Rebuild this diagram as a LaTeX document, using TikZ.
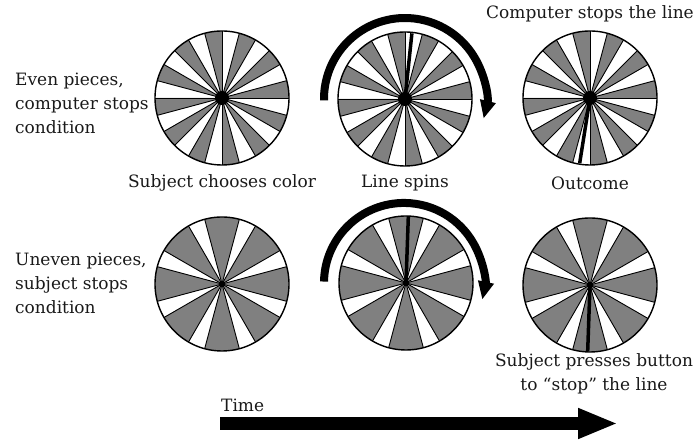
\documentclass[tikz,border=0pt]{standalone}
\usepackage{fontspec}
\setmainfont{DejaVu Serif}
\usetikzlibrary{arrows.meta}
\definecolor{wedge}{gray}{0.5}
\definecolor{ink}{gray}{0.1}
\tikzset{
  lbl/.style={font=\fontsize{17}{24}\selectfont, text=ink, inner sep=0pt},
  rim/.style={draw=black, line width=1.4pt},
  spoke/.style={draw=black, line width=0.9pt},
  pointer/.style={draw=black, line width=3.5pt},
  spin/.style={draw=black, line width=8pt, -{Triangle[length=18pt,width=15pt]}},
  timearrow/.style={draw=black, line width=13pt, -{Triangle[length=40pt,width=28pt]}},
}
\begin{document}
\begin{tikzpicture}[x=1pt,y=1pt]
\useasboundingbox (0,0) rectangle (696,443);
\coordinate (w1) at (222,345);
\coordinate (w2) at (405,344);
\coordinate (w3) at (590,345);
\coordinate (w4) at (222,159);
\coordinate (w5) at (406,160);
\coordinate (w6) at (590,158);

% even-piece wheels
\foreach \w in {w1,w2,w3}{
  \fill[white] (\w) circle[radius=67pt];
  \foreach \a in {0,30,...,330}{
    \fill[wedge] (\w) -- ++(\a:67pt) arc[start angle=\a, end angle=\a+15, radius=67pt] -- cycle;
  }
  \foreach \a in {0,15,...,345}{\draw[spoke] (\w) -- ++(\a:67pt);}
  \draw[rim] (\w) circle[radius=67pt];
  \fill[black] (\w) circle[radius=7pt];
}

% uneven-piece wheels
\foreach \w in {w4,w5,w6}{
  \fill[white] (\w) circle[radius=67pt];
  \foreach \a in {0,45,...,315}{
    \fill[wedge] (\w) -- ++(\a-15:67pt) arc[start angle=\a-15, end angle=\a+15, radius=67pt] -- cycle;
    \draw[spoke] (\w) -- ++(\a-15:67pt);
    \draw[spoke] (\w) -- ++(\a+15:67pt);
  }
  \draw[rim] (\w) circle[radius=67pt];
  \fill[black] (\w) circle[radius=3pt];
}

% pointer lines
\coordinate (p2) at ([shift={(84:66pt)}]w2);
\coordinate (p3) at ([shift={(261:66pt)}]w3);
\coordinate (p5) at ([shift={(88:67pt)}]w5);
\coordinate (p6) at ([shift={(268:66pt)}]w6);
\draw[pointer] (w2) -- (p2);
\draw[pointer] (w3) -- (p3);
\draw[pointer] (w5) -- (p5);
\draw[pointer] (w6) -- (p6);

% spin arrows
\draw[spin] ([shift={(181:81pt)}]w2) arc[start angle=181, end angle=-14, radius=81pt];
\draw[spin] ([shift={(179:82pt)}]w5) arc[start angle=179, end angle=-12, radius=80pt];

% time arrow
\coordinate (tstart) at (220,19.5);
\coordinate (tend) at (618,19.5);
\draw[timearrow] (tstart) -- (tend);

% labels
\node[lbl, anchor=west, align=left] (even) at (15,340) {Even pieces,\\computer stops\\condition};
\node[lbl, anchor=west, align=left] (uneven) at (15,160) {Uneven pieces,\\subject stops\\condition};
\node[lbl] (compstop) at (590,429) {Computer stops the line};
\node[lbl] (choose) at (222,260) {Subject chooses color};
\node[lbl] (spins) at (405,260) {Line spins};
\node[lbl] (outcome) at (590,260) {Outcome};
\node[lbl, align=center] (press) at (594,69) {Subject presses button\\to “stop” the line};
\node[lbl, anchor=west] (time) at (221,38) {Time};
\end{tikzpicture}
\end{document}
